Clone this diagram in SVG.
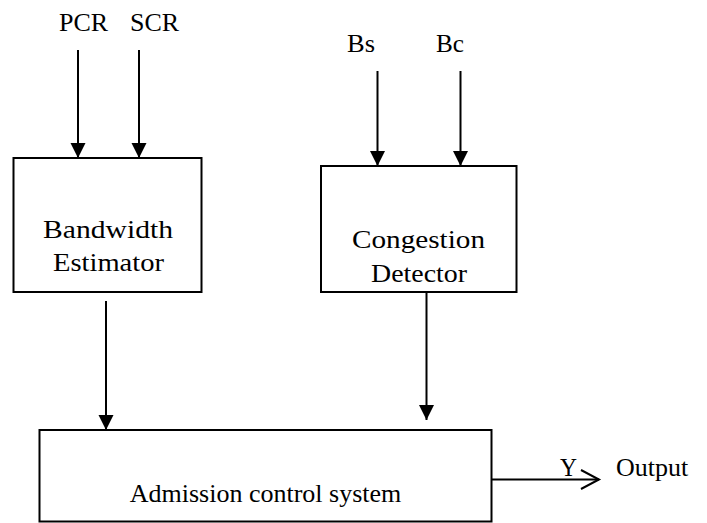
<svg xmlns="http://www.w3.org/2000/svg" width="707" height="523" viewBox="0 0 707 523" font-family="'Liberation Serif', 'DejaVu Serif', serif">
<style>
.box{fill:#fff;stroke:#000;stroke-width:2}
.ln{stroke:#000;stroke-width:2;fill:none}
text{font-family:'Liberation Serif','DejaVu Serif',serif;font-size:26px;fill:#000}
.m{text-anchor:middle}
</style>
<defs>
<marker id="ah" markerUnits="userSpaceOnUse" markerWidth="16" markerHeight="16" refX="15" refY="7.5" orient="auto">
<path d="M0,0 L15,7.5 L0,15 z" fill="#000"/>
</marker>
</defs>
<rect width="707" height="523" fill="#fff"/>
<g id="inputs">
<text x="59" y="31">PCR</text>
<text x="130" y="31">SCR</text>
<text x="347" y="52" textLength="28" lengthAdjust="spacingAndGlyphs">Bs</text>
<text x="436" y="52" textLength="28" lengthAdjust="spacingAndGlyphs">Bc</text>
</g>
<g id="bandwidth-estimator">
<rect class="box" x="13.5" y="158" width="188" height="134"/>
<text class="m" x="108" y="238" textLength="130" lengthAdjust="spacingAndGlyphs">Bandwidth</text>
<text class="m" x="108.5" y="271" textLength="111" lengthAdjust="spacingAndGlyphs">Estimator</text>
</g>
<g id="congestion-detector">
<rect class="box" x="321" y="166" width="195.5" height="126"/>
<text class="m" x="418.5" y="248" textLength="133" lengthAdjust="spacingAndGlyphs">Congestion</text>
<text class="m" x="419" y="282" textLength="96" lengthAdjust="spacingAndGlyphs">Detector</text>
</g>
<g id="admission-control">
<rect class="box" x="39.5" y="430" width="452" height="91.5"/>
<text class="m" x="265.5" y="502">Admission control system</text>
</g>
<g id="connectors">
<line class="ln" x1="78" y1="50" x2="78" y2="158" marker-end="url(#ah)"/>
<line class="ln" x1="139" y1="50" x2="139" y2="158" marker-end="url(#ah)"/>
<line class="ln" x1="377.5" y1="71" x2="377.5" y2="166" marker-end="url(#ah)"/>
<line class="ln" x1="460.5" y1="71" x2="460.5" y2="166" marker-end="url(#ah)"/>
<line class="ln" x1="106" y1="301" x2="106" y2="430" marker-end="url(#ah)"/>
<line class="ln" x1="426.5" y1="292" x2="426.5" y2="420" marker-end="url(#ah)"/>
<line class="ln" x1="492" y1="479.5" x2="599" y2="479.5"/>
<polyline class="ln" points="581,470 599,479.5 581,489"/>
</g>
<g id="output">
<text x="560" y="476" textLength="17" lengthAdjust="spacingAndGlyphs">Y</text>
<text x="616" y="476">Output</text>
</g>
</svg>
